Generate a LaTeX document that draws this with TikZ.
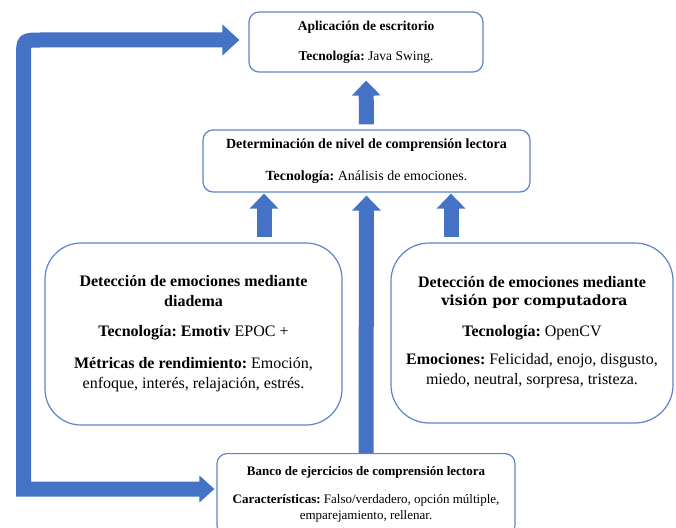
\documentclass[tikz,border=0pt]{standalone}
\usepackage{fontspec}
\setmainfont{Liberation Serif}
\newfontfamily\dvserif{DejaVu Serif}
\usetikzlibrary{arrows.meta,calc}
\frenchspacing
\definecolor{arrblue}{HTML}{4472C4}
\definecolor{boxblue}{HTML}{5B84CC}
\newcommand{\fsz}[2]{\fontsize{#1}{#2}\selectfont}
\tikzset{
  box/.style={draw=boxblue, line width=1.2pt, align=center, inner sep=0pt, fill=white},
  uparr/.style={line width=15pt, arrblue, -{Triangle[length=15pt,width=28pt]}},
  bigL/.style={line width=15pt, arrblue, line join=miter,
    {Triangle[length=15pt,width=26pt]}-{Triangle[length=17pt,width=30pt]}},
}
\begin{document}
\begin{tikzpicture}[x=1pt,y=-1pt]
\useasboundingbox (0,0) rectangle (676,527);
% boxes
\node[box, rounded corners=10pt, minimum width=234pt, minimum height=60pt, font=\fsz{13.5}{16}] (app) at (366,42)
  {\textbf{Aplicación de escritorio}\\[14pt]\textbf{Tecnología:} Java Swing.};
\node[box, rounded corners=10pt, minimum width=327pt, minimum height=62pt, font=\fsz{14}{17}] (mid) at (366.5,161)
  {\textbf{Determinación de nivel de comprensión lectora}\\[15pt]\textbf{Tecnología:} Análisis de emociones.};
\node[box, rounded corners=36pt, minimum width=297pt, minimum height=182pt, font=\fsz{16}{20}] (lbox) at (193.5,334)
  {\textbf{Detección de emociones mediante}\\\textbf{diadema}\\[10pt]\textbf{Tecnología: Emotiv} EPOC +\\[12pt]\textbf{Métricas de rendimiento:} Emoción,\\enfoque, interés, relajación, estrés.};
\node[box, rounded corners=38pt, minimum width=282pt, minimum height=180pt, font=\fsz{16}{20}, text depth=6pt] (rbox) at (532,333)
  {\textbf{Detección de emociones mediante}\\[-2pt]{\dvserif\bfseries\fsz{14}{17} visión por computadora}\\[11pt]\textbf{Tecnología:} OpenCV\\[8pt]\textbf{Emociones:} Felicidad, enojo, disgusto,\\miedo, neutral, sorpresa, tristeza.};
\node[box, rounded corners=10pt, minimum width=298pt, minimum height=82pt, font=\fsz{13}{16}, anchor=north] (bank) at (366,453)
  {\textbf{Banco de ejercicios de comprensión lectora}\\[12pt]\textbf{Características:} Falso/verdadero, opción múltiple,\\emparejamiento, rellenar.};
% arrows
\coordinate (xl) at (264,0);
\coordinate (xr) at (451,0);
\draw[uparr, shorten <=5pt, shorten >=8pt] (mid.north) -- (app.south);
\draw[uparr, shorten <=5pt, shorten >=1pt] (lbox.north -| xl) -- (mid.south -| xl);
\draw[uparr, shorten <=5pt, shorten >=1pt] (rbox.north -| xr) -- (mid.south -| xr);
\draw[uparr, shorten >=3pt] (bank.north) -- (mid.south);
\coordinate (c1) at (23.5,489);
\coordinate (c2) at (23.5,40);
\draw[bigL, shorten <=2pt, shorten >=9pt] (bank.west |- c1) -- (c1) -- (23.5,57) .. controls (c2) .. (40.5,40) -- (app.west |- c2);
\end{tikzpicture}
\end{document}
